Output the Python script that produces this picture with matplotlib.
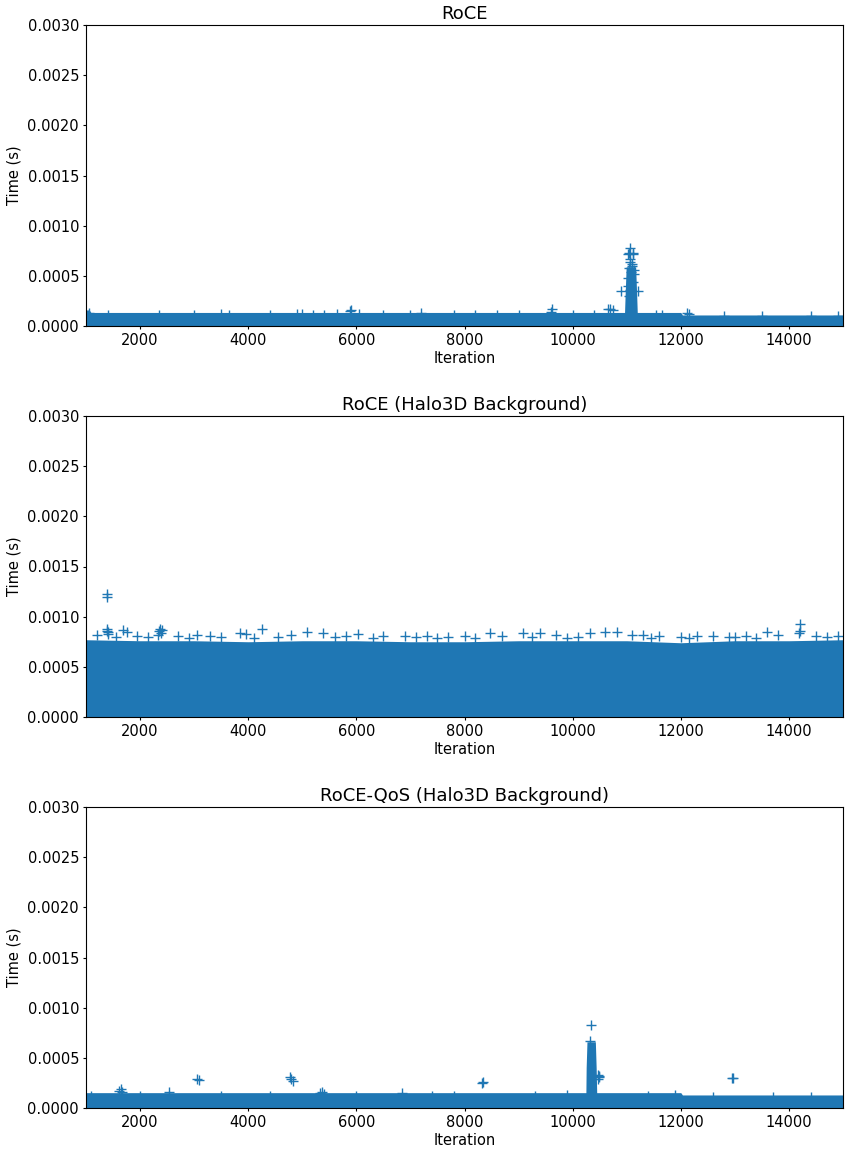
import matplotlib
matplotlib.use("Agg")
import matplotlib.pyplot as plt
from matplotlib.ticker import FormatStrFormatter

plt.rcParams["font.family"] = ["DejaVu Sans"]

BLUE = "#1f77b4"

# ---------------- RoCE ----------------
# envelope of the dense per-iteration body (iteration, time in s)
roce_band_x = [1000, 1060, 1090, 10960, 10970, 10990, 11165, 11185, 11195,
               12000, 12030, 15000]
roce_band_top = [0.00016, 0.00016, 0.000135, 0.000135, 0.00030, 0.00059,
                 0.00059, 0.00030, 0.000135, 0.000135, 0.00011, 0.00011]
# individual samples standing out of the body
roce_pts_x = [1050, 1400, 2350, 3000, 3500, 3650, 4400, 4900, 5000, 5200,
              5400, 5650, 5880, 5910, 6050, 6500, 7000, 7200, 7800, 8200,
              8600, 9000, 9610, 9600, 10000, 10400, 10660, 10700, 10750,
              11550, 11650, 12120, 12150, 12800, 13500, 14400, 14900,
              # burst around iteration 11000
              11070, 11040, 11120, 11030, 11110, 11070, 11090, 11050, 11130,
              10895, 11205, 11030, 11120, 11070, 11050, 11140, 11020, 11100,
              11060, 11080]
roce_pts_y = [0.00013, 0.00011, 0.00011, 0.00011, 0.00012, 0.00011, 0.00011,
              0.00012, 0.00012, 0.00011, 0.00011, 0.00012, 0.000145, 0.00016,
              0.00012, 0.00011, 0.00011, 0.00013, 0.00011, 0.00011, 0.00011,
              0.00011, 0.000166, 0.00014, 0.00011, 0.00011, 0.000165, 0.00017,
              0.00016, 0.00011, 0.00011, 0.00013, 0.00012, 0.00010, 0.00010,
              0.00010, 0.00010,
              0.00078, 0.00073, 0.00073, 0.00072, 0.00072, 0.00064, 0.00062,
              0.00058, 0.00056, 0.00035, 0.00035, 0.00048, 0.00044, 0.00036,
              0.00030, 0.00052, 0.00040, 0.00060, 0.00067, 0.00054]

# ---------------- RoCE (Halo3D Background) ----------------
halo_band_x = [1000, 2000, 3000, 4000, 5000, 6000, 7000, 8000, 9000, 10000,
               11000, 11500, 12000, 12500, 13000, 14000, 15000]
halo_band_top = [0.00077, 0.00076, 0.00076, 0.00075, 0.00076, 0.00076,
                 0.00075, 0.00075, 0.00076, 0.00076, 0.00076, 0.00075,
                 0.00074, 0.00075, 0.00076, 0.00076, 0.00077]
halo_pts_x = [1394, 1394, 1390, 1400, 1410, 1380, 2370, 2350, 2390, 2340,
              2400, 1690, 1760, 1200, 1950, 2700, 3050, 3300, 3850, 3950,
              4250, 4550, 4800, 5080, 5385, 5800, 6030, 6500, 6900, 7300,
              7700, 8000, 8470, 8700, 9085, 9400, 9700, 10320, 10600, 10815,
              11100, 11300, 11600, 12000, 12300, 12600, 12900, 13200, 13590,
              13800, 14205, 14200, 14190, 14500, 14900, 1550, 2150, 2900,
              3500, 4100, 5600, 6300, 7100, 7500, 8200, 9250, 9900, 10100,
              11450, 12150, 13000, 13400, 14700]
halo_pts_y = [0.001226, 0.0012, 0.00088, 0.00085, 0.00083, 0.00086, 0.00088,
              0.00086, 0.00084, 0.00082, 0.00087, 0.00087, 0.00085, 0.00082,
              0.00081, 0.00081, 0.00082, 0.00081, 0.00084, 0.00083, 0.00088,
              0.00080, 0.00082, 0.00085, 0.00084, 0.00081, 0.00083, 0.00081,
              0.00081, 0.00081, 0.00080, 0.00081, 0.00084, 0.00081, 0.00084,
              0.00084, 0.00082, 0.00084, 0.00085, 0.00085, 0.00082, 0.00082,
              0.00081, 0.00080, 0.00081, 0.00081, 0.00080, 0.00081, 0.00085,
              0.00082, 0.00093, 0.00086, 0.00084, 0.00081, 0.00081, 0.00080,
              0.00080, 0.00079, 0.00080, 0.00079, 0.00080, 0.00079, 0.00080,
              0.00079, 0.00079, 0.00080, 0.00079, 0.00080, 0.00079, 0.00079,
              0.00080, 0.00079, 0.00080]

# ---------------- RoCE-QoS (Halo3D Background) ----------------
qos_band_x = [1000, 10245, 10250, 10265, 10420, 10435, 10445, 12000, 12030,
              15000]
qos_band_top = [0.000153, 0.000153, 0.00040, 0.00066, 0.00066, 0.00040,
                0.000153, 0.000153, 0.00013, 0.00013]
qos_pts_x = [1610, 1640, 1660, 2540, 3060, 3090, 4780, 4800, 4830, 5320,
             5360, 5400, 6850, 8320, 8350, 10334, 10330, 12958, 12950,
             10470, 10480, 10470, 10485,
             1100, 2000, 3500, 4400, 6000, 7400, 7800, 9300, 9900, 11400,
             11900, 12600, 13700, 14400]
qos_pts_y = [0.00017, 0.00019, 0.00016, 0.00016, 0.00029, 0.00028, 0.00031,
             0.00029, 0.00027, 0.00015, 0.00016, 0.00014, 0.00015, 0.00025,
             0.00026, 0.00083, 0.00067, 0.000296, 0.00030,
             0.00033, 0.00031, 0.00029, 0.00032,
             0.00012, 0.00012, 0.00012, 0.00012, 0.00012, 0.00012, 0.00012,
             0.00012, 0.00013, 0.00012, 0.00013, 0.00011, 0.00011, 0.00011]

titles = ["RoCE", "RoCE (Halo3D Background)", "RoCE-QoS (Halo3D Background)"]
panels = [
    (roce_band_x, roce_band_top, roce_pts_x, roce_pts_y),
    (halo_band_x, halo_band_top, halo_pts_x, halo_pts_y),
    (qos_band_x, qos_band_top, qos_pts_x, qos_pts_y),
]

x_ticks = [2000, 4000, 6000, 8000, 10000, 12000, 14000]
y_ticks = [0.0, 0.0005, 0.0010, 0.0015, 0.0020, 0.0025, 0.0030]

W, H = 849, 1156
fig = plt.figure(figsize=(W / 100, H / 100), dpi=100)

left, right = 86 / W, 843 / W
ax_h = 301 / H
tops_px = [25, 416, 807]

for (bx, btop, px, py), title, top_px in zip(panels, titles, tops_px):
    ax = fig.add_axes([left, 1 - (top_px + 301) / H, right - left, ax_h])
    ax.fill_between(bx, 0, btop, color=BLUE, linewidth=0)
    ax.plot(px, py, "+", color=BLUE, markersize=7, markeredgewidth=1.0)
    ax.set_xlim(1000, 15000)
    ax.set_ylim(0, 0.003)
    ax.set_xticks(x_ticks)
    ax.set_yticks(y_ticks)
    ax.yaxis.set_major_formatter(FormatStrFormatter("%.4f"))
    ax.tick_params(labelsize=10.5, length=2.5, pad=2.5)
    ax.set_xlabel("Iteration", fontsize=10.5, labelpad=2)
    ax.set_ylabel("Time (s)", fontsize=10.5)
    ax.set_title(title, fontsize=13, pad=4)

fig.savefig("out.png", dpi=100)
